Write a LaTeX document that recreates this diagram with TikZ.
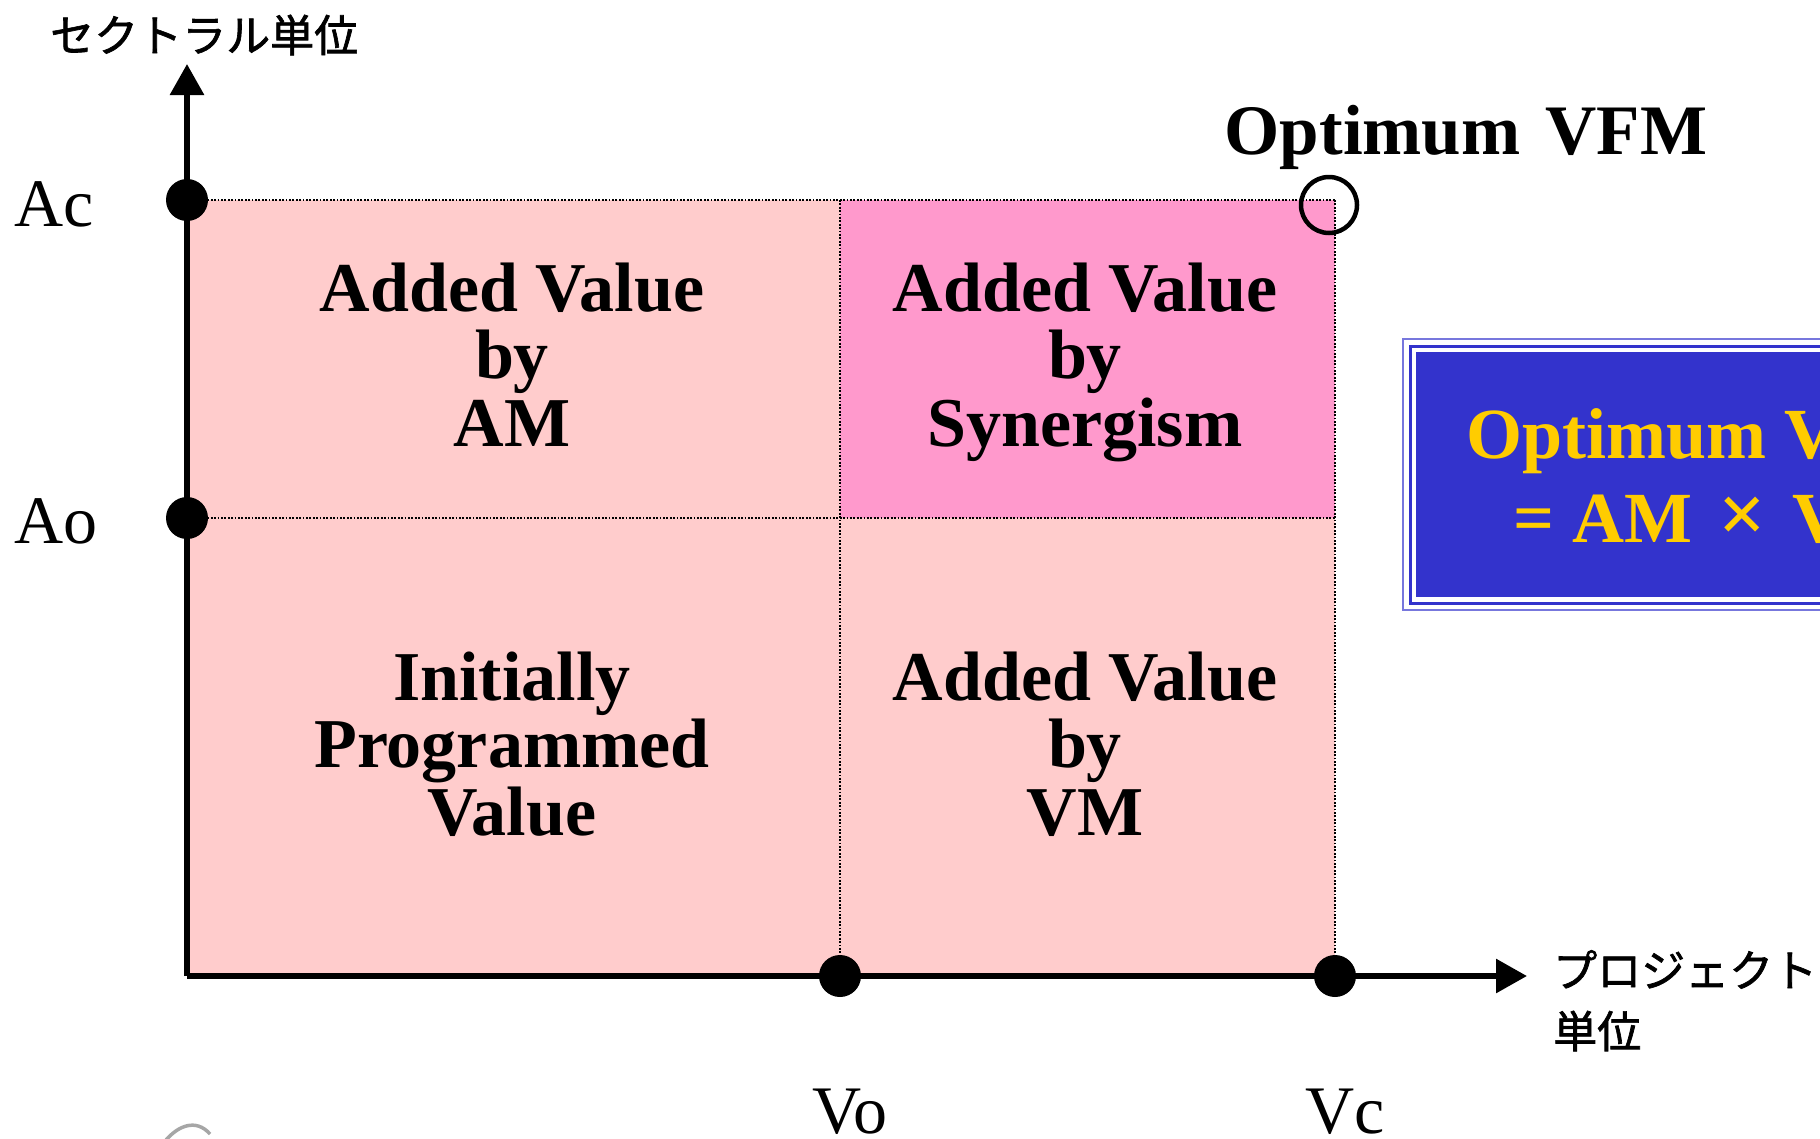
\documentclass[tikz,border=0pt]{standalone}
\usepackage{fontspec}
\setmainfont{Liberation Serif}
\newfontfamily\jp[FakeBold=1.5]{Noto Sans CJK JP}
\usetikzlibrary{arrows.meta}
\definecolor{cellpink}{HTML}{FFCCCC}
\definecolor{synpink}{HTML}{FF99CC}
\definecolor{boxblue}{HTML}{3333CC}
\definecolor{boxline}{HTML}{7777DD}
\definecolor{gold}{HTML}{FFCC00}
\tikzset{
  axisline/.style={line width=6pt,-{Triangle[length=31pt,width=33pt]}},
  gridline/.style={line width=1.6pt,dash pattern=on 1.8pt off 1.6pt},
  tickdot/.style={circle,fill=black,inner sep=0pt,minimum size=42pt},
  celltext/.style={align=center,font=\fontsize{70}{67.5}\selectfont\bfseries,inner sep=0pt,anchor=base},
  ticklabel/.style={font=\fontsize{68}{68}\selectfont,inner sep=0pt,anchor=base},
  jplabel/.style={font=\jp\fontsize{44}{61}\selectfont,inner sep=0pt,align=left},
  boxtext/.style={font=\fontsize{72}{72}\selectfont\bfseries,text=gold,inner sep=0pt,anchor=base west}
}
\begin{document}
\begin{tikzpicture}[x=1pt,y=-1pt]
\useasboundingbox (0,0) rectangle (1820,1138);
% cells
\fill[cellpink] (187,200) rectangle (840,976);
\fill[cellpink] (840,518) rectangle (1335,976);
\fill[synpink] (840,200) rectangle (1335,518);
% grid lines
\coordinate (acl) at (187,200);
\coordinate (acr) at (1335,200);
\coordinate (aol) at (187,518);
\coordinate (aor) at (1335,518);
\coordinate (vot) at (840,200);
\coordinate (vct) at (1335,200);
\coordinate (vob) at (840,976);
\coordinate (vcb) at (1335,976);
\draw[gridline] (acl) -- (acr);
\draw[gridline] (aol) -- (aor);
\draw[gridline] (vot) -- (vob);
\draw[gridline] (vct) -- (vcb);
% axes
\coordinate (O) at (187,976);
\coordinate (ytip) at (187,64);
\coordinate (xtip) at (1527,976);
\draw[axisline] (O) -- (ytip);
\draw[axisline] (O) -- (xtip);
% dots
\node[tickdot] (dAc) at (187,200) {};
\node[tickdot] (dAo) at (187,518) {};
\node[tickdot] (dVo) at (840,976) {};
\node[tickdot] (dVc) at (1335,976) {};
% optimum circle
\node[circle,draw=black,line width=4.5pt,minimum size=56pt,inner sep=0pt] (opt) at (1329,205) {};
% labels
\node[ticklabel,anchor=base west] (Ac) at (14,226) {Ac};
\node[ticklabel,anchor=base west] (Ao) at (14,543) {Ao};
\node[ticklabel] (Vo) at (850,1133) {Vo};
\node[ticklabel] (Vc) at (1345,1133) {Vc};
\node[font=\fontsize{71}{71}\selectfont\bfseries,inner sep=0pt,anchor=base] (optlbl) at (1466,154) {Optimum\hspace{25pt}VFM};
\node[jplabel,anchor=west] (ylbl) at (50,35) {セクトラル単位};
\node[jplabel,anchor=north west] (xlbl) at (1553,950) {プロジェクト\\単位};
% cell texts (anchor base = last line)
\node[celltext] (c1) at (512,446) {Added Value\\by\\AM};
\node[celltext] (c2) at (1085,446) {Added Value\\by\\Synergism};
\node[celltext] (c3) at (512,835) {Initially\\Programmed\\Value};
\node[celltext] (c4) at (1085,835) {Added Value\\by\\VM};
% blue box
\begin{scope}
\clip (0,0) rectangle (1820,1138);
\draw[boxline,line width=2pt] (1403,339) rectangle (1900,610);
\draw[boxblue,line width=3pt] (1410,346) rectangle (1900,603);
\fill[boxblue] (1416,352) rectangle (1900,597);
\node[boxtext] (b1) at (1466,458) {Optimum VFM};
\node[boxtext] (b2) at (1513,542) {= AM\hspace{26pt}{\fontsize{84}{84}\selectfont ×}\hspace{26pt}VM};
\end{scope}
% fragment bottom-left
\draw[gray!70,line width=3.5pt] (166,1140) .. controls (178,1126) and (196,1118) .. (210,1134);
\end{tikzpicture}
\end{document}
